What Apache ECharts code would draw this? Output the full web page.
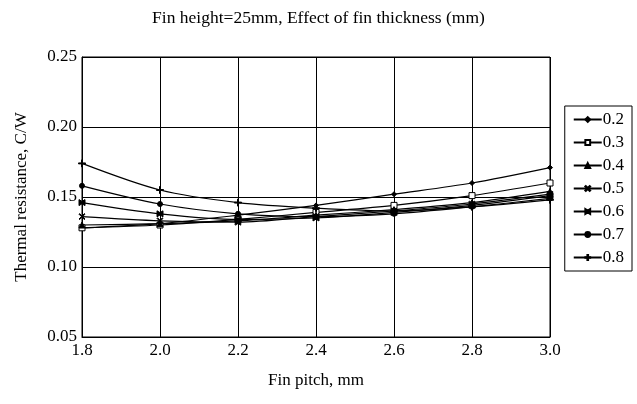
<!DOCTYPE html>
<html>
<head>
<meta charset="utf-8">
<script src="https://cdn.jsdelivr.net/npm/echarts@6/dist/echarts.min.js"></script>
<style>html,body{margin:0;padding:0;background:#fff}#c{width:637px;height:404px}</style>
</head>
<body>
<div id="c"></div>
<script>
const pitch = [1.8, 2.0, 2.2, 2.4, 2.6, 2.8, 3.0];
const t02 = [0.128, 0.131, 0.137, 0.144, 0.152, 0.160, 0.171];
const t03 = [0.128, 0.130, 0.134, 0.139, 0.144, 0.151, 0.160];
const t04 = [0.130, 0.131, 0.133, 0.137, 0.141, 0.146, 0.154];
const t05 = [0.136, 0.133, 0.132, 0.136, 0.140, 0.145, 0.152];
const t06 = [0.146, 0.138, 0.134, 0.135, 0.139, 0.144, 0.151];
const t07 = [0.158, 0.145, 0.138, 0.136, 0.138, 0.143, 0.149];
const t08 = [0.174, 0.155, 0.146, 0.142, 0.140, 0.143, 0.148];
const seriesNames = ['0.2', '0.3', '0.4', '0.5', '0.6', '0.7', '0.8'];
const seriesData = [t02, t03, t04, t05, t06, t07, t08];
const yTicks = [0.05, 0.10, 0.15, 0.20, 0.25];

const symbols = [
  {s: 'diamond', size: 5, fill: '#000'},
  {s: 'rect', size: 6, fill: '#fff'},
  {s: 'triangle', size: 6, fill: '#000'},
  {s: 'path://M0,1L1,0L5,4L9,0L10,1L6,5L10,9L9,10L5,6L1,10L0,9L4,5Z', size: 6, fill: '#000'},
  {s: 'path://M0,0L5,3L10,0L10,10L5,7L0,10Z', size: 6, fill: '#000'},
  {s: 'circle', size: 5, fill: '#000'},
  {s: 'path://M4.3,0H5.7V4.3H10V5.7H5.7V10H4.3V5.7H0V4.3H4.3Z', size: 7, fill: '#000'}
];
const serif = '"Liberation Serif", "DejaVu Serif", serif';
const chart = echarts.init(document.getElementById('c'), null, {renderer: 'canvas'});
chart.setOption({
  animation: false,
  backgroundColor: '#fff',
  title: {
    text: 'Fin height=25mm, Effect of fin thickness (mm)',
    left: 'center', top: 4,
    textStyle: {fontFamily: serif, fontWeight: 'normal', fontSize: 17.5, color: '#000'}
  },
  legend: {
    orient: 'vertical', right: 5, top: 106,
    data: seriesNames,
    itemWidth: 28, itemHeight: 6, itemGap: 6,
    borderColor: '#000', borderWidth: 1, padding: [5, 8, 5, 8],
    textStyle: {fontFamily: serif, fontSize: 17, color: '#000', padding: [0, 0, 0, -4], lineHeight: 17}
  },
  grid: {left: 82, right: 87, top: 57, bottom: 67, show: true, borderColor: '#000', borderWidth: 1},
  xAxis: {
    type: 'value', min: 1.8, max: 3.0, interval: 0.2,
    name: 'Fin pitch, mm', nameLocation: 'middle', nameGap: 35,
    nameTextStyle: {fontFamily: serif, fontSize: 17, color: '#000'},
    axisLine: {lineStyle: {color: '#000'}},
    axisTick: {show: false},
    axisLabel: {fontFamily: serif, fontSize: 17, color: '#000', margin: 5, formatter: v => v.toFixed(1)},
    splitLine: {show: true, lineStyle: {color: '#000', width: 1}}
  },
  yAxis: {
    type: 'value', min: yTicks[0], max: yTicks[yTicks.length - 1], interval: 0.05,
    name: 'Thermal resistance, C/W', nameLocation: 'middle', nameGap: 52,
    nameTextStyle: {fontFamily: serif, fontSize: 17, color: '#000'},
    axisLine: {show: true, lineStyle: {color: '#000'}},
    axisTick: {show: false},
    axisLabel: {fontFamily: serif, fontSize: 17, color: '#000', margin: 5, formatter: v => v.toFixed(2)},
    splitLine: {show: true, lineStyle: {color: '#000', width: 1}}
  },
  series: seriesData.map((d, i) => ({
    name: seriesNames[i],
    type: 'line',
    smooth: 0.3,
    data: d.map((v, j) => [pitch[j], v]),
    symbol: symbols[i].s,
    symbolSize: symbols[i].size,
    showSymbol: true,
    lineStyle: {color: '#000', width: 1.2},
    itemStyle: {color: symbols[i].fill, borderColor: '#000', borderWidth: 1}
  }))
});
</script>
</body>
</html>
